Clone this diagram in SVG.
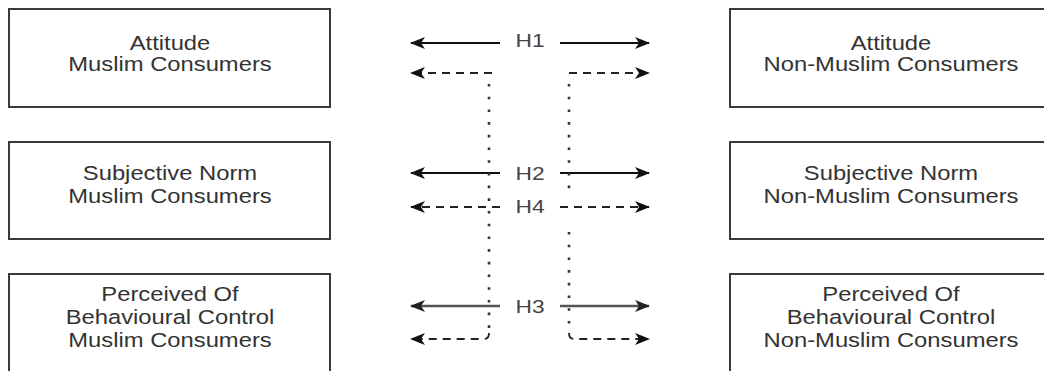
<svg xmlns="http://www.w3.org/2000/svg" width="1044" height="371" viewBox="0 0 1044 371">
  <style>
    .box { fill: #ffffff; stroke: #3a3a3a; stroke-width: 2; }
    .nt { font-family: "Liberation Sans", Arial, sans-serif; font-size: 20.5px; fill: #333333; text-anchor: middle; }
    .hl { font-family: "Liberation Sans", Arial, sans-serif; font-size: 19px; fill: #444444; text-anchor: middle; }
    .solid { fill: none; stroke: #111111; stroke-width: 2; }
    .solid3 { fill: none; stroke: #555555; stroke-width: 2.3; }
    .dash { fill: none; stroke: #222222; stroke-width: 1.8; stroke-dasharray: 8 6; }
    .dot { fill: none; stroke: #333333; stroke-width: 2.6; stroke-dasharray: 2.6 10.1; }
  </style>
  <defs>
    <marker id="ah" viewBox="0 0 15 12" refX="14" refY="6" markerWidth="15" markerHeight="12" markerUnits="userSpaceOnUse" orient="auto">
      <path d="M0,0 L15,6 L0,12 L4,6 Z" fill="#111111"/>
    </marker>
    <marker id="ah3" viewBox="0 0 15 12" refX="14" refY="6" markerWidth="15" markerHeight="12" markerUnits="userSpaceOnUse" orient="auto">
      <path d="M0,0 L15,6 L0,12 L4,6 Z" fill="#222222"/>
    </marker>
  </defs>
  <rect width="1044" height="371" fill="#ffffff"/>

  <g id="attitude-muslim">
    <rect class="box" x="9" y="9" width="321" height="98"/>
    <text class="nt" transform="translate(170 0) scale(1.16 1)"><tspan x="0" y="50">Attitude</tspan><tspan x="0" y="71">Muslim Consumers</tspan></text>
  </g>
  <g id="subjective-muslim">
    <rect class="box" x="9" y="142" width="321" height="97"/>
    <text class="nt" transform="translate(170 0) scale(1.16 1)"><tspan x="0" y="180">Subjective Norm</tspan><tspan x="0" y="203">Muslim Consumers</tspan></text>
  </g>
  <g id="pbc-muslim">
    <rect class="box" x="9" y="274" width="321" height="99"/>
    <text class="nt" transform="translate(170 0) scale(1.16 1)"><tspan x="0" y="301">Perceived Of</tspan><tspan x="0" y="324">Behavioural Control</tspan><tspan x="0" y="347">Muslim Consumers</tspan></text>
  </g>

  <g id="attitude-nonmuslim">
    <rect class="box" x="730" y="9" width="322" height="98"/>
    <text class="nt" transform="translate(891 0) scale(1.16 1)"><tspan x="0" y="50">Attitude</tspan><tspan x="0" y="71">Non-Muslim Consumers</tspan></text>
  </g>
  <g id="subjective-nonmuslim">
    <rect class="box" x="730" y="142" width="322" height="97"/>
    <text class="nt" transform="translate(891 0) scale(1.16 1)"><tspan x="0" y="180">Subjective Norm</tspan><tspan x="0" y="203">Non-Muslim Consumers</tspan></text>
  </g>
  <g id="pbc-nonmuslim">
    <rect class="box" x="730" y="274" width="322" height="99"/>
    <text class="nt" transform="translate(891 0) scale(1.16 1)"><tspan x="0" y="301">Perceived Of</tspan><tspan x="0" y="324">Behavioural Control</tspan><tspan x="0" y="347">Non-Muslim Consumers</tspan></text>
  </g>

  <g id="connectors">
    <!-- H1 -->
    <line class="solid" x1="500" y1="43" x2="411" y2="43" marker-end="url(#ah)"/>
    <line class="solid" x1="560" y1="43" x2="649" y2="43" marker-end="url(#ah)"/>
    <!-- H2 -->
    <line class="solid" x1="500" y1="173" x2="411" y2="173" marker-end="url(#ah)"/>
    <line class="solid" x1="560" y1="173" x2="649" y2="173" marker-end="url(#ah)"/>
    <!-- H4 -->
    <line class="dash" x1="500" y1="207" x2="411" y2="207" marker-end="url(#ah)"/>
    <line class="dash" x1="560" y1="207" x2="649" y2="207" marker-end="url(#ah)"/>
    <!-- H3 -->
    <line class="solid3" x1="500" y1="306" x2="411" y2="306" marker-end="url(#ah3)"/>
    <line class="solid3" x1="560" y1="306" x2="649" y2="306" marker-end="url(#ah3)"/>
    <!-- left elbow -->
    <line class="dash" x1="492" y1="73" x2="411" y2="73" marker-end="url(#ah)"/>
    <line class="dot" x1="489" y1="84" x2="489" y2="334"/>
    <path class="dash" d="M489,333 Q489,339 484,339 L411,339" marker-end="url(#ah)"/>
    <!-- right elbow -->
    <line class="dash" x1="569" y1="73" x2="649" y2="73" marker-end="url(#ah)"/>
    <line class="dot" x1="569" y1="84" x2="569" y2="192"/>
    <line class="dot" x1="569" y1="232" x2="569" y2="334"/>
    <path class="dash" d="M569,333 Q569,339 574,339 L649,339" marker-end="url(#ah)"/>
  </g>

  <g id="labels">
    <text class="hl" transform="translate(530 0) scale(1.2 1)" x="0" y="47.5">H1</text>
    <text class="hl" transform="translate(530 0) scale(1.2 1)" x="0" y="180">H2</text>
    <text class="hl" transform="translate(530 0) scale(1.2 1)" x="0" y="213">H4</text>
    <text class="hl" transform="translate(530 0) scale(1.2 1)" x="0" y="313">H3</text>
  </g>
</svg>
